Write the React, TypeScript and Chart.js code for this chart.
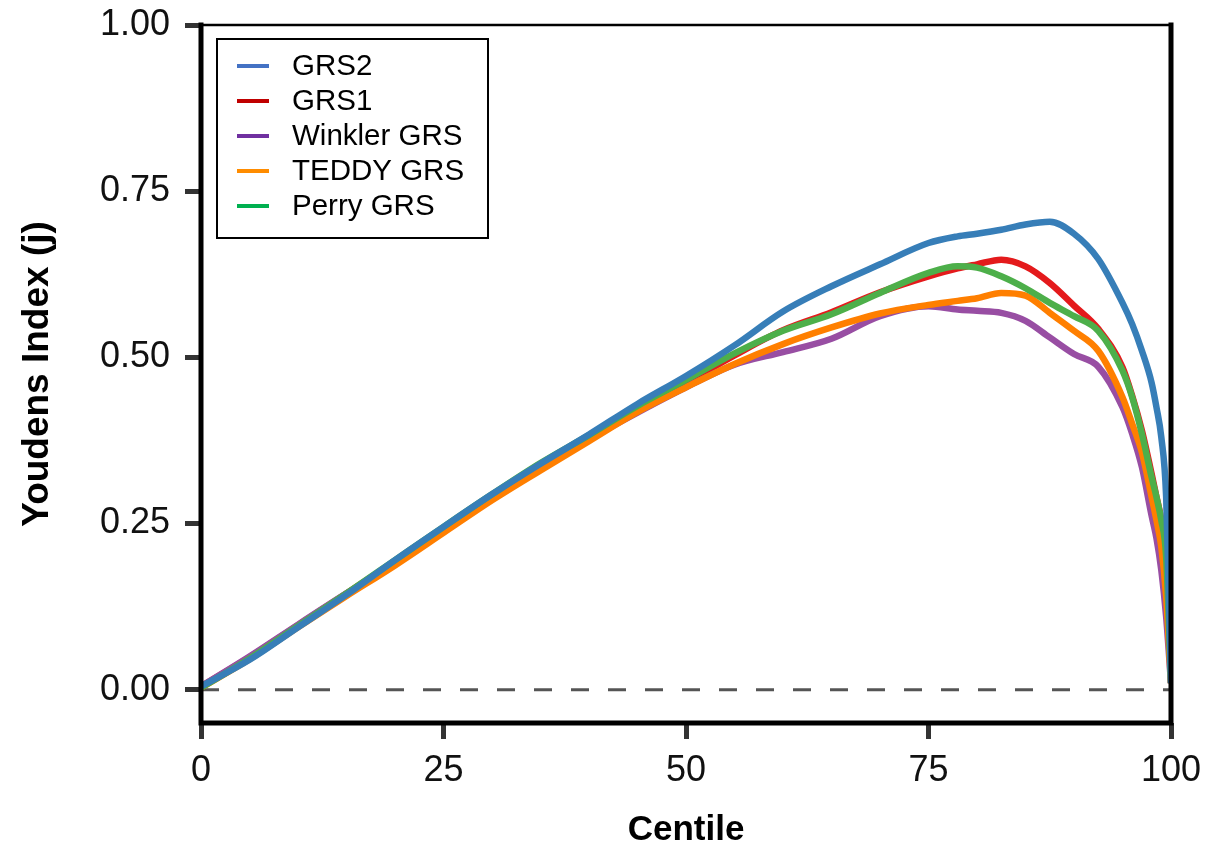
import React, { useEffect, useRef } from "react";
import { Chart, registerables } from "chart.js";

Chart.register(...registerables);

const centiles = [0, 5, 10, 15, 20, 25, 30, 35, 40, 45, 50, 55, 60, 65, 70, 75, 78, 80, 82.5, 85, 87.5, 90, 92.5, 95, 96, 97, 98, 98.5, 99, 99.5, 100];

const grs2 = [0.005, 0.045, 0.094, 0.143, 0.195, 0.245, 0.294, 0.340, 0.384, 0.430, 0.472, 0.518, 0.569, 0.607, 0.640, 0.672, 0.682, 0.686, 0.692, 0.700, 0.704, 0.686, 0.648, 0.582, 0.550, 0.510, 0.462, 0.425, 0.38, 0.29, 0.01];
const grs1 = [0.005, 0.049, 0.097, 0.145, 0.193, 0.242, 0.292, 0.338, 0.381, 0.424, 0.462, 0.503, 0.541, 0.568, 0.598, 0.622, 0.634, 0.640, 0.647, 0.637, 0.612, 0.578, 0.543, 0.485, 0.442, 0.390, 0.325, 0.29, 0.255, 0.19, 0.01];
const winkler = [0.005, 0.05, 0.098, 0.145, 0.19, 0.238, 0.288, 0.334, 0.377, 0.417, 0.455, 0.489, 0.508, 0.528, 0.562, 0.577, 0.572, 0.570, 0.567, 0.555, 0.530, 0.505, 0.486, 0.425, 0.385, 0.335, 0.262, 0.228, 0.18, 0.11, 0.01];
const teddy = [0.003, 0.046, 0.094, 0.141, 0.187, 0.236, 0.285, 0.330, 0.374, 0.418, 0.455, 0.490, 0.520, 0.545, 0.566, 0.579, 0.585, 0.589, 0.597, 0.593, 0.567, 0.540, 0.510, 0.440, 0.400, 0.357, 0.29, 0.255, 0.215, 0.14, 0.01];
const perry = [0.003, 0.047, 0.096, 0.145, 0.195, 0.245, 0.294, 0.341, 0.383, 0.427, 0.466, 0.506, 0.540, 0.565, 0.597, 0.627, 0.637, 0.635, 0.622, 0.604, 0.582, 0.562, 0.540, 0.480, 0.440, 0.385, 0.32, 0.29, 0.255, 0.20, 0.01];

const seriesNames = ["GRS2", "GRS1", "Winkler GRS", "TEDDY GRS", "Perry GRS"];
const seriesValues = [grs2, grs1, winkler, teddy, perry];
const lineColors = ["#377EB8", "#E41A1C", "#984EA3", "#FF7F00", "#4DAF4A"];
const legendColors = ["#4472C4", "#C00000", "#7030A0", "#FF8C00", "#00B050"];
const drawOrder = [0, 4, 3, 2, 1];

const yTicks = [0, 0.25, 0.5, 0.75, 1.0];
const xTicks = [0, 25, 50, 75, 100];

const FONT = '"Liberation Sans", Arial, Helvetica, sans-serif';

export default function App() {
  const ref = useRef<HTMLCanvasElement>(null);

  useEffect(() => {
    document.body.style.margin = "0";
    const canvas = ref.current;
    if (!canvas) return;

    const framePlugin = {
      id: "frame",
      beforeDatasetsDraw(chart: any) {
        const { ctx, chartArea, scales } = chart;
        const y0 = scales.y.getPixelForValue(0);
        ctx.save();
        ctx.strokeStyle = "#555555";
        ctx.lineWidth = 3;
        ctx.setLineDash([18, 19]);
        ctx.beginPath();
        ctx.moveTo(chartArea.left, y0);
        ctx.lineTo(chartArea.right, y0);
        ctx.stroke();
        ctx.restore();
      },
      afterDatasetsDraw(chart: any) {
        const { ctx, chartArea } = chart;
        const { left, right, top, bottom } = chartArea;
        ctx.save();
        ctx.strokeStyle = "#000";
        ctx.lineCap = "square";
        ctx.lineWidth = 2.5;
        ctx.beginPath();
        ctx.moveTo(left, top);
        ctx.lineTo(right, top);
        ctx.stroke();
        ctx.lineWidth = 5;
        ctx.beginPath();
        ctx.moveTo(left, top);
        ctx.lineTo(left, bottom);
        ctx.lineTo(right, bottom);
        ctx.lineTo(right, top);
        ctx.stroke();

        // legend
        const lx = left + 16;
        const ly = top + 14;
        const lw = 271;
        const lh = 199;
        ctx.lineCap = "butt";
        ctx.fillStyle = "#fff";
        ctx.fillRect(lx, ly, lw, lh);
        ctx.lineWidth = 2;
        ctx.strokeStyle = "#000";
        ctx.strokeRect(lx, ly, lw, lh);
        ctx.font = `29.5px ${FONT}`;
        ctx.textBaseline = "middle";
        ctx.textAlign = "left";
        seriesNames.forEach((name, i) => {
          const cy = ly + 27 + i * 35;
          ctx.strokeStyle = legendColors[i];
          ctx.lineWidth = 4;
          ctx.beginPath();
          ctx.moveTo(lx + 20, cy);
          ctx.lineTo(lx + 52, cy);
          ctx.stroke();
          ctx.fillStyle = "#000";
          ctx.fillText(name, lx + 75, cy + 1);
        });
        ctx.restore();
      },
    };

    const chart = new Chart(canvas, {
      type: "line",
      data: {
        datasets: seriesNames.map((name, i) => ({
          label: name,
          data: centiles.map((c, j) => ({ x: c, y: seriesValues[i][j] })),
          borderColor: lineColors[i],
          backgroundColor: lineColors[i],
          borderWidth: 6.5,
          pointRadius: 0,
          fill: false,
          cubicInterpolationMode: "monotone" as const,
          order: drawOrder[i],
        })),
      },
      options: {
        animation: false,
        responsive: false,
        maintainAspectRatio: false,
        layout: { padding: { left: 0, right: 40, top: 25, bottom: 0 } },
        plugins: {
          legend: { display: false },
          tooltip: { enabled: false },
        },
        scales: {
          x: {
            type: "linear",
            min: 0,
            max: 100,
            afterBuildTicks: (s: any) => {
              s.ticks = xTicks.map((v) => ({ value: v }));
            },
            afterFit: (s: any) => {
              s.height = 128;
              s.paddingLeft = 0;
              s.paddingRight = 0;
            },
            border: { display: false },
            grid: {
              drawOnChartArea: false,
              drawTicks: true,
              tickLength: 16,
              tickColor: "#333",
              tickWidth: 5,
            },
            ticks: {
              color: "#111",
              font: { family: FONT, size: 36 },
              padding: 10,
              maxRotation: 0,
              callback: (v: any) => String(v),
            },
            title: {
              display: true,
              text: "Centile",
              color: "#000",
              font: { family: FONT, size: 35, weight: "bold" },
              padding: { top: 0, bottom: 0 },
            },
          },
          y: {
            type: "linear",
            min: -0.05,
            max: 1.0,
            afterBuildTicks: (s: any) => {
              s.ticks = yTicks.map((v) => ({ value: v }));
            },
            afterFit: (s: any) => {
              s.width = 201;
              s.paddingTop = 0;
              s.paddingBottom = 0;
            },
            border: { display: false },
            grid: {
              drawOnChartArea: false,
              drawTicks: true,
              tickLength: 16,
              tickColor: "#333",
              tickWidth: 5,
            },
            ticks: {
              color: "#111",
              font: { family: FONT, size: 36 },
              padding: 15,
              callback: (v: any) => Number(v).toFixed(2),
            },
            title: {
              display: true,
              text: "Youdens Index (j)",
              color: "#000",
              font: { family: FONT, size: 37, weight: "bold" },
              padding: { top: 16, bottom: 0 },
            },
          },
        },
      },
      plugins: [framePlugin],
    });

    return () => chart.destroy();
  }, []);

  return (
    <div style={{ width: 1211, height: 851, background: "#fff" }}>
      <canvas ref={ref} width={1211} height={851} style={{ display: "block" }} />
    </div>
  );
}
